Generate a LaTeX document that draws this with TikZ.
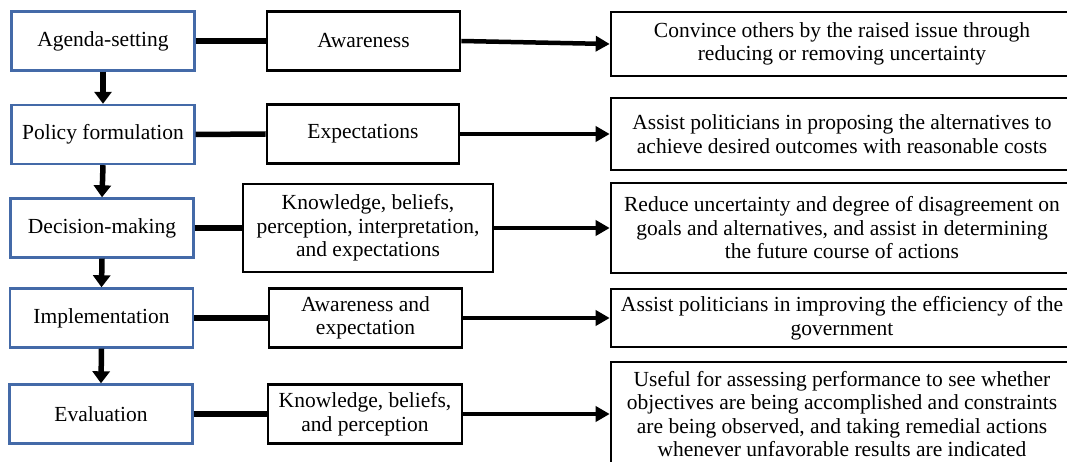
\documentclass[tikz,border=0pt]{standalone}
\usepackage{fontspec}
\setmainfont{Liberation Serif}
\usetikzlibrary{arrows.meta}
\definecolor{stageblue}{RGB}{68,106,168}
\tikzset{
  txt/.style={font=\fontsize{21.5}{23.5}\selectfont},
  stagebox/.style={txt, draw=stageblue, line width=2.4pt, minimum width=183pt, minimum height=59pt, inner sep=2pt, align=center},
  midbox/.style={txt, draw=black, line width=2.6pt, minimum height=59pt, inner sep=2pt, align=center},
  outbox/.style={txt, draw=black, line width=2.6pt, minimum width=462pt, inner sep=2pt, align=center},
  link/.style={line width=5.5pt},
  flow/.style={line width=4.5pt, -{Triangle[length=14pt,width=15pt]}},
  down/.style={line width=5.5pt, -{Triangle[length=12pt,width=17pt]}},
}
\begin{document}
\begin{tikzpicture}[x=1pt,y=-1pt]
\useasboundingbox (0,0) rectangle (1067,462);
% left stages
\node[stagebox] (s1) at (103,41) {Agenda-setting};
\node[stagebox] (s2) at (103,134.5) {Policy formulation};
\node[stagebox] (s3) at (102,228) {Decision-making};
\node[stagebox] (s4) at (101.5,318) {Implementation};
\node[stagebox] (s5) at (101,414) {Evaluation};
% middle
\node[midbox, minimum width=193pt] (m1) at (363.5,41) {Awareness};
\node[midbox, minimum width=192pt] (m2) at (363,134) {Expectations};
\node[midbox, minimum width=250pt, minimum height=88pt] (m3) at (368,228) {Knowledge, beliefs,\\perception, interpretation,\\and expectations};
\node[midbox, minimum width=193pt] (m4) at (365.5,318) {Awareness and\\expectation};
\node[midbox, minimum width=194pt] (m5) at (365,414) {Knowledge, beliefs,\\and perception};
% right
\node[outbox, minimum height=64pt] (r1) at (842,44) {Convince others by the raised issue through\\reducing or removing uncertainty};
\node[outbox, minimum height=72pt] (r2) at (842,134) {Assist politicians in proposing the alternatives to\\achieve desired outcomes with reasonable costs};
\node[outbox, minimum height=90pt] (r3) at (842,228) {Reduce uncertainty and degree of disagreement on\\goals and alternatives, and assist in determining\\the future course of actions};
\node[outbox, minimum height=58pt] (r4) at (842,318) {Assist politicians in improving the efficiency of the\\government};
\node[outbox, minimum height=104pt] (r5) at (842,414) {Useful for assessing performance to see whether\\objectives are being accomplished and constraints\\are being observed, and taking remedial actions\\whenever unfavorable results are indicated};
% down arrows
\draw[down] (s1.south) -- (s2.north);
\draw[down] (s2.south) -- (s3.north);
\draw[down] (s3.south) -- (s4.north);
\draw[down] (s4.south) -- (s5.north);
% links
\foreach \i in {1,...,5} {
  \draw[link] (s\i.east) -- (m\i.west);
  \draw[flow] (m\i.east) -- (r\i.west);
}
\end{tikzpicture}
\end{document}
